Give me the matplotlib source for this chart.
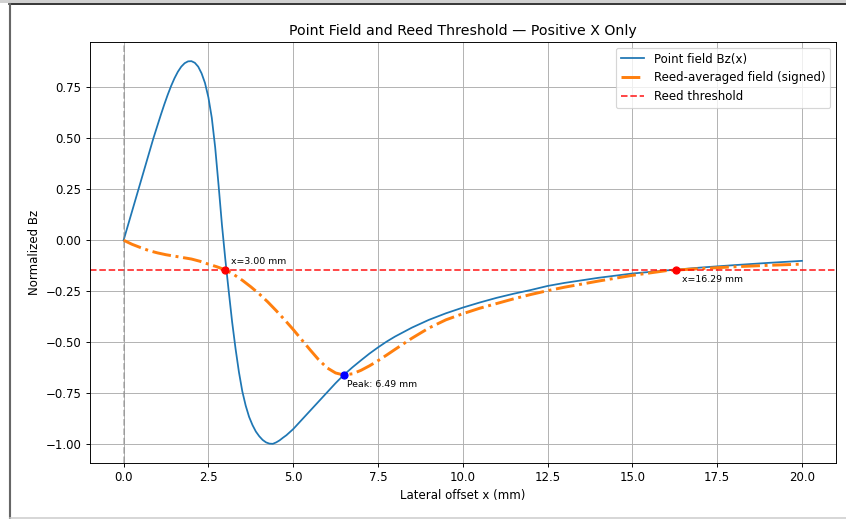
import matplotlib
matplotlib.use("Agg")
import matplotlib.pyplot as plt
from matplotlib.lines import Line2D

# point field Bz(x)
point_x = [0.0, 0.22, 0.44, 0.66, 0.88, 1.0, 1.1, 1.2, 1.3, 1.4, 1.5, 1.6, 1.7, 1.8,
           1.9, 2.0, 2.1, 2.2, 2.3, 2.4, 2.5, 2.6, 2.7, 2.8, 2.9, 3.0, 3.1, 3.2, 3.3,
           3.4, 3.5, 3.6, 3.7, 3.8, 3.9, 4.0, 4.1, 4.2, 4.3, 4.4, 4.5, 4.6, 4.7, 4.8,
           5.0, 5.25, 5.5, 5.75, 6.0, 6.25, 6.49, 6.75, 7.0, 7.25, 7.5, 7.75, 8.0, 8.5,
           9.0, 9.5, 10.0, 10.5, 11.0, 11.5, 12.0, 12.5, 13.0, 14.0, 15.0, 16.0, 17.0,
           18.0, 19.0, 20.0]
point_bz = [0.0, 0.125, 0.25, 0.375, 0.50, 0.563, 0.615, 0.665, 0.712, 0.755, 0.793,
            0.825, 0.85, 0.867, 0.876, 0.877, 0.869, 0.85, 0.817, 0.77, 0.70, 0.60,
            0.455, 0.27, 0.075, -0.095, -0.25, -0.40, -0.53, -0.645, -0.74, -0.81,
            -0.865, -0.905, -0.937, -0.96, -0.978, -0.99, -0.996, -0.997, -0.99, -0.98,
            -0.967, -0.955, -0.925, -0.88, -0.835, -0.79, -0.745, -0.70, -0.66, -0.622,
            -0.588, -0.555, -0.525, -0.497, -0.472, -0.428, -0.39, -0.358, -0.33,
            -0.305, -0.282, -0.262, -0.244, -0.224, -0.209, -0.184, -0.163, -0.148,
            -0.134, -0.122, -0.111, -0.101]

# reed-averaged field (signed)
reed_x = [0.0, 0.25, 0.5, 0.75, 1.0, 1.25, 1.5, 1.75, 2.0, 2.25, 2.5, 2.75, 3.0, 3.25,
          3.5, 3.75, 4.0, 4.25, 4.5, 4.75, 5.0, 5.25, 5.5, 5.75, 6.0, 6.25, 6.49, 6.75,
          7.0, 7.25, 7.5, 7.75, 8.0, 8.5, 9.0, 9.5, 10.0, 10.5, 11.0, 11.5, 12.0, 12.5,
          13.0, 14.0, 15.0, 16.0, 17.0, 18.0, 19.0, 20.0]
reed_bz = [0.0, -0.02, -0.036, -0.051, -0.062, -0.071, -0.078, -0.085, -0.092, -0.103,
           -0.117, -0.13, -0.145, -0.168, -0.196, -0.228, -0.263, -0.302, -0.345, -0.39,
           -0.437, -0.487, -0.537, -0.585, -0.625, -0.65, -0.66, -0.654, -0.637,
           -0.615, -0.59, -0.563, -0.535, -0.48, -0.43, -0.39, -0.36, -0.333, -0.31,
           -0.287, -0.266, -0.247, -0.23, -0.2, -0.172, -0.149, -0.139, -0.13, -0.123,
           -0.117]

threshold = -0.145
cross_x = [3.00, 16.29]
peak_x = 6.49
peak_bz = -0.66

fig = plt.figure(figsize=(10, 6.135), dpi=84.6)
ax = fig.add_axes([0.106, 0.108, 0.882, 0.811])

ax.plot(point_x, point_bz, label='Point field Bz(x)')
ax.plot(reed_x, reed_bz, '-.', color='C1', linewidth=2.5, label='Reed-averaged field (signed)')
ax.axhline(threshold, color='red', linestyle='--', alpha=0.8, label='Reed threshold')
ax.axvline(0, color='gray', linestyle='--', alpha=0.5)

for cx in cross_x:
    ax.plot(cx, threshold, 'ro')
ax.annotate(f'x={cross_x[0]:.2f} mm', (cross_x[0], threshold), textcoords='offset points',
            xytext=(5, 5), fontsize=8)
ax.annotate(f'x={cross_x[1]:.2f} mm', (cross_x[1], threshold), textcoords='offset points',
            xytext=(5, -10), fontsize=8)
ax.plot(peak_x, peak_bz, 'bo')
ax.annotate(f'Peak: {peak_x:.2f} mm', (peak_x, peak_bz), textcoords='offset points',
            xytext=(3, -10), fontsize=8)

ax.set_title('Point Field and Reed Threshold — Positive X Only')
ax.set_xlabel('Lateral offset x (mm)')
ax.set_ylabel('Normalized Bz')
ax.grid(True)
ax.legend(loc='upper right')

# screenshot frame
W, H = 846, 519
fig.add_artist(Line2D([0, 1], [1 - 1.5 / H, 1 - 1.5 / H], transform=fig.transFigure,
                      color='#d0d0d0', linewidth=2.5))
fig.add_artist(Line2D([9 / W, 1], [1 - 4.5 / H, 1 - 4.5 / H], transform=fig.transFigure,
                      color='black', linewidth=1.3))
fig.add_artist(Line2D([10 / W, 10 / W], [0, 1 - 4 / H], transform=fig.transFigure,
                      color='#666666', linewidth=1.8))
fig.add_artist(Line2D([10 / W, 1], [1.2 / H, 1.2 / H], transform=fig.transFigure,
                      color='#cccccc', linewidth=1.3))

fig.savefig('out.png', dpi=84.6)
